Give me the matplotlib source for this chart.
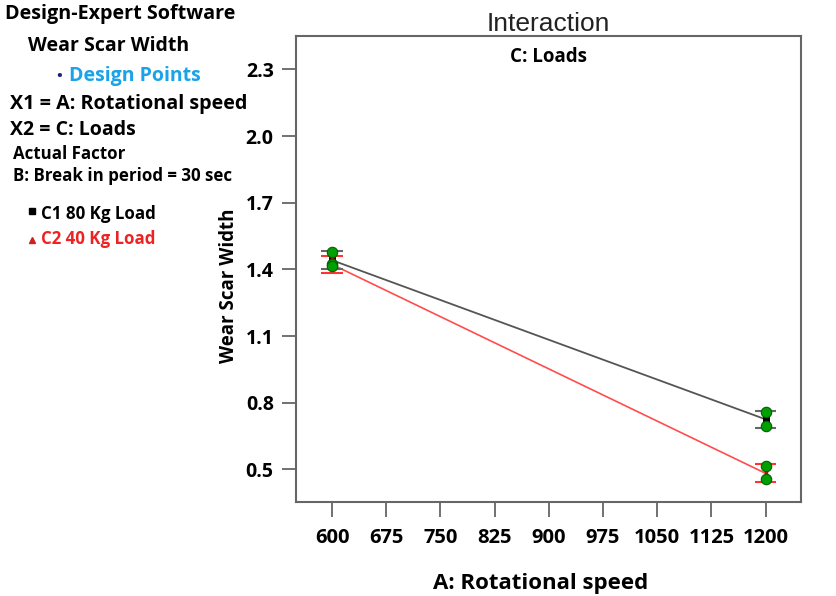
import numpy as np
import matplotlib.pyplot as plt

# data
speed = [600, 1200]
c1_pred = [1.441, 0.725]          # C1 80 Kg Load
c2_pred = [1.422, 0.482]          # C2 40 Kg Load
c1_low = [1.400, 0.685]
c1_high = [1.482, 0.764]
c2_low = [1.384, 0.441]
c2_high = [1.460, 0.522]

pts_x = [600, 600, 600, 1200, 1200, 1200, 1200]
pts_y = [1.478, 1.422, 1.414, 0.758, 0.695, 0.516, 0.455]

xticks = [600, 675, 750, 825, 900, 975, 1050, 1125, 1200]
yticks = [0.5, 0.8, 1.1, 1.4, 1.7, 2.0, 2.3]

FONT = 'Open Sans'

fig = plt.figure(figsize=(8.37, 5.96), dpi=100)
ax = fig.add_axes([0.3536, 0.1577, 0.6034, 0.7819])

# prediction lines
ax.plot(speed, c1_pred, color='#555555', lw=1.3, zorder=2)
ax.plot(speed, c2_pred, color='#ff4d4d', lw=1.2, zorder=2)

# LSD bars
for x, lo, hi in zip(speed, c1_low, c1_high):
    ax.vlines(x, lo, hi, color='black', lw=5, zorder=3)
    ax.hlines([lo, hi], x - 15, x + 15, color='#666666', lw=1.5, zorder=3)
for x, lo, hi in zip(speed, c2_low, c2_high):
    ax.vlines(x, lo, hi, color='#dd0000', lw=2.5, zorder=3)
    ax.hlines([lo, hi], x - 15, x + 15, color='#ff3333', lw=1.5, zorder=3)

# design points
ax.plot(pts_x, pts_y, 'o', ms=7.5, mfc='#00a000', mec='#006000', mew=0.8, zorder=4)

ax.set_xlim(550, 1249)
ax.set_ylim(0.353, 2.45)
ax.set_xticks(xticks)
ax.set_yticks(yticks)
ax.set_yticklabels([f'{v:.1f}' for v in yticks])
for s in ax.spines.values():
    s.set_color('#666666')
    s.set_linewidth(1.5)
ax.tick_params(axis='y', length=10, width=1.3, color='#666666', pad=6)
ax.tick_params(axis='x', length=11, width=1.3, color='#666666', pad=8)
for lab in ax.get_xticklabels():
    lab.set_fontfamily(FONT)
    lab.set_fontweight('bold')
    lab.set_fontsize(14.5)
for lab in ax.get_yticklabels():
    lab.set_fontfamily(FONT)
    lab.set_fontweight('bold')
    lab.set_fontsize(14)

ax.set_title('Interaction', fontsize=19, family='Liberation Sans', pad=3, color='#222222')
ax.text(0.5, 0.955, 'C: Loads', transform=ax.transAxes, ha='center', va='center',
        family=FONT, fontweight='bold', fontsize=13.5)
fig.text(541 / 837, 1 - 583 / 596, 'A: Rotational speed', ha='center', va='center',
         family=FONT, fontweight='bold', fontsize=16)
fig.text(229 / 837, 1 - 286 / 596, 'Wear Scar Width', ha='center', va='center',
         rotation=90, family=FONT, fontweight='bold', fontsize=13.5)

# side panel
def side(x, y, s, size=14, color='black'):
    fig.text(x / 837, 1 - y / 596, s, ha='left', va='center', family=FONT,
             fontweight='bold', fontsize=size, color=color)

side(5, 14, 'Design-Expert Software', 14.2)
side(28, 46, 'Wear Scar Width', 14)
side(56, 76, '\u2022', 11, '#1a237e')
side(69, 76, 'Design Points', 14, '#1aa3e8')
side(10, 104, 'X1 = A: Rotational speed', 14.2)
side(10, 130, 'X2 = C: Loads', 14)
side(13, 154, 'Actual Factor', 12.2)
side(13, 176, 'B: Break in period = 30 sec', 12.2)
fig.lines.append(plt.Line2D([32 / 837], [1 - 211 / 596], marker='s', ms=4.5,
                            color='black', transform=fig.transFigure))
side(41, 214, 'C1 80 Kg Load', 12.2)
fig.lines.append(plt.Line2D([32 / 837], [1 - 240 / 596], marker='^', ms=5,
                            color='#cc2222', transform=fig.transFigure))
side(41, 239, 'C2 40 Kg Load', 12.2, '#ee2222')

fig.savefig('out.png', dpi=100)
